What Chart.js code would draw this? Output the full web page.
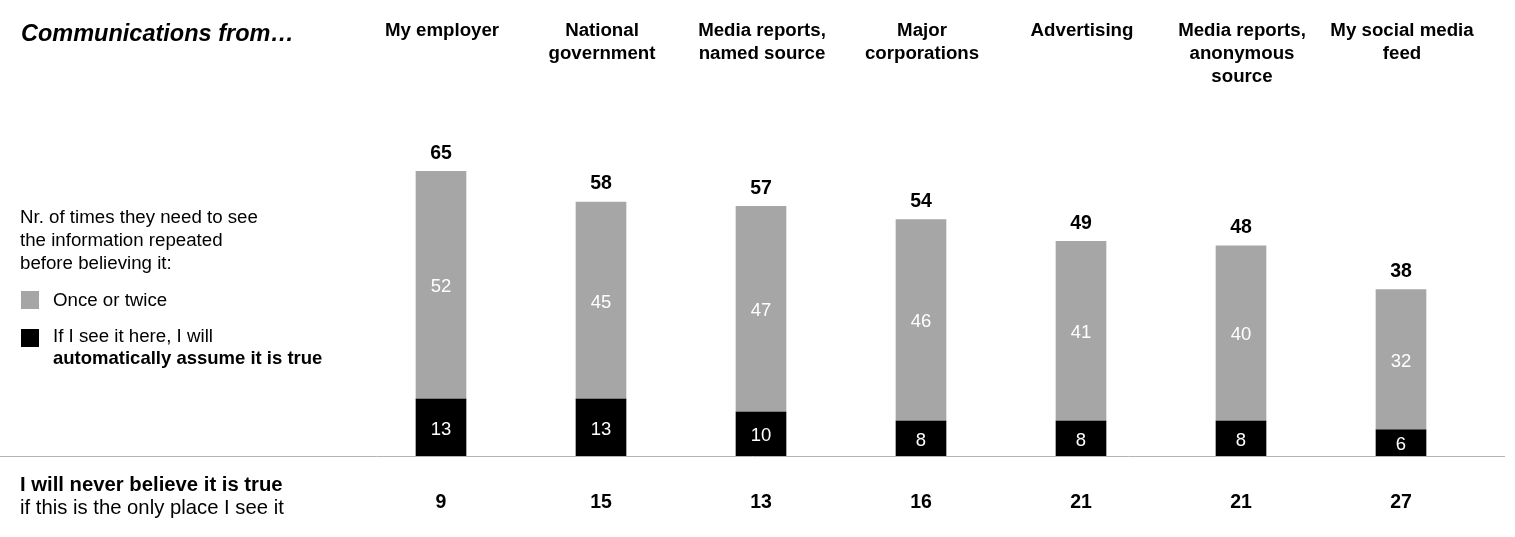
<!DOCTYPE html>
<html>
<head>
<meta charset="utf-8">
<script src="https://cdn.jsdelivr.net/npm/chart.js@4/dist/chart.umd.min.js"></script>
<style>
  html, body { margin: 0; padding: 0; background: #fff; }
  #wrap { width: 1515px; height: 537px; }
</style>
</head>
<body>
<div id="wrap"><canvas id="chart" width="1515" height="537"></canvas></div>
<script>
// data
const sources = [
    ['My employer'],
    ['National', 'government'],
    ['Media reports,', 'named source'],
    ['Major', 'corporations'],
    ['Advertising'],
    ['Media reports,', 'anonymous', 'source'],
    ['My social media', 'feed']
];
const onceOrTwice = [52, 45, 47, 46, 41, 40, 32];
const automatically = [13, 13, 10, 8, 8, 8, 6];
const neverBelieve = [9, 15, 13, 16, 21, 21, 27];

const GREY = '#a6a6a6';
const FONT = '"Liberation Sans", Arial, sans-serif';

// draws all the text, the baseline and the left-hand legend
const annotations = {
    id: 'annotations',
    afterDatasetsDraw(chart) {
        const ctx = chart.ctx;
        const x = chart.scales.x;
        const y = chart.scales.y;
        const base = y.getPixelForValue(0);

        ctx.save();

        // baseline across the whole page
        ctx.strokeStyle = '#b4b4b4';
        ctx.lineWidth = 1;
        ctx.beginPath();
        ctx.moveTo(0, Math.round(base) + 0.5);
        ctx.lineTo(1505, Math.round(base) + 0.5);
        ctx.stroke();

        ctx.textAlign = 'center';
        ctx.textBaseline = 'middle';

        // labels inside the bars
        chart.data.datasets.forEach((ds, di) => {
            const meta = chart.getDatasetMeta(di);
            meta.data.forEach((bar, i) => {
                const mid = (bar.y + bar.base) / 2;
                ctx.fillStyle = '#fff';
                ctx.font = '18.5px ' + FONT;
                ctx.fillText(ds.data[i], bar.x, mid + 2);
            });
        });

        // totals above the bars
        ctx.fillStyle = '#000';
        ctx.font = 'bold 19.5px ' + FONT;
        onceOrTwice.forEach((v, i) => {
            const total = v + automatically[i];
            ctx.fillText(total, x.getPixelForValue(i), y.getPixelForValue(total) - 18);
        });

        // "never believe" row
        neverBelieve.forEach((v, i) => {
            ctx.fillText(v, x.getPixelForValue(i), 503);
        });

        // column headers
        ctx.font = 'bold 18.7px ' + FONT;
        sources.forEach((lines, i) => {
            lines.forEach((line, li) => {
                ctx.fillText(line, x.getPixelForValue(i) + 1, 31 + li * 22.7);
            });
        });

        // left side texts
        ctx.textAlign = 'left';
        ctx.font = 'italic bold 23.5px ' + FONT;
        ctx.fillText('Communications from\u2026', 21, 35);

        ctx.font = '18.7px ' + FONT;
        ['Nr. of times they need to see', 'the information repeated', 'before believing it:']
            .forEach((line, li) => ctx.fillText(line, 20, 218 + li * 23));

        ctx.fillStyle = GREY;
        ctx.fillRect(21, 291, 18, 18);
        ctx.fillStyle = '#000';
        ctx.fillRect(21, 329, 18, 18);

        ctx.fillText('Once or twice', 53, 301);
        ctx.fillText('If I see it here, I will', 53, 337);
        ctx.font = 'bold 18.5px ' + FONT;
        ctx.fillText('automatically assume it is true', 53, 359);

        ctx.font = 'bold 20.3px ' + FONT;
        ctx.fillText('I will never believe it is true', 20, 485);
        ctx.font = '20.3px ' + FONT;
        ctx.fillText('if this is the only place I see it', 20, 508);

        ctx.restore();
    }
};

const config = {
    type: 'bar',
    data: {
        labels: sources.map(s => s.join(' ')),
        datasets: [
            {
                label: 'If I see it here, I will automatically assume it is true',
                data: automatically,
                backgroundColor: '#000',
                barThickness: 50
            },
            {
                label: 'Once or twice',
                data: onceOrTwice,
                backgroundColor: GREY,
                barThickness: 50
            }
        ]
    },
    options: {
        responsive: false,
        animation: false,
        layout: {
            padding: { left: 361, right: 34, top: 18, bottom: 81 }
        },
        plugins: {
            legend: { display: false },
            tooltip: { enabled: false }
        },
        scales: {
            x: {
                stacked: true,
                display: false
            },
            y: {
                stacked: true,
                display: false,
                min: 0,
                max: 100
            }
        }
    },
    plugins: [annotations]
};

new Chart(document.getElementById('chart'), config);
</script>
</body>
</html>
